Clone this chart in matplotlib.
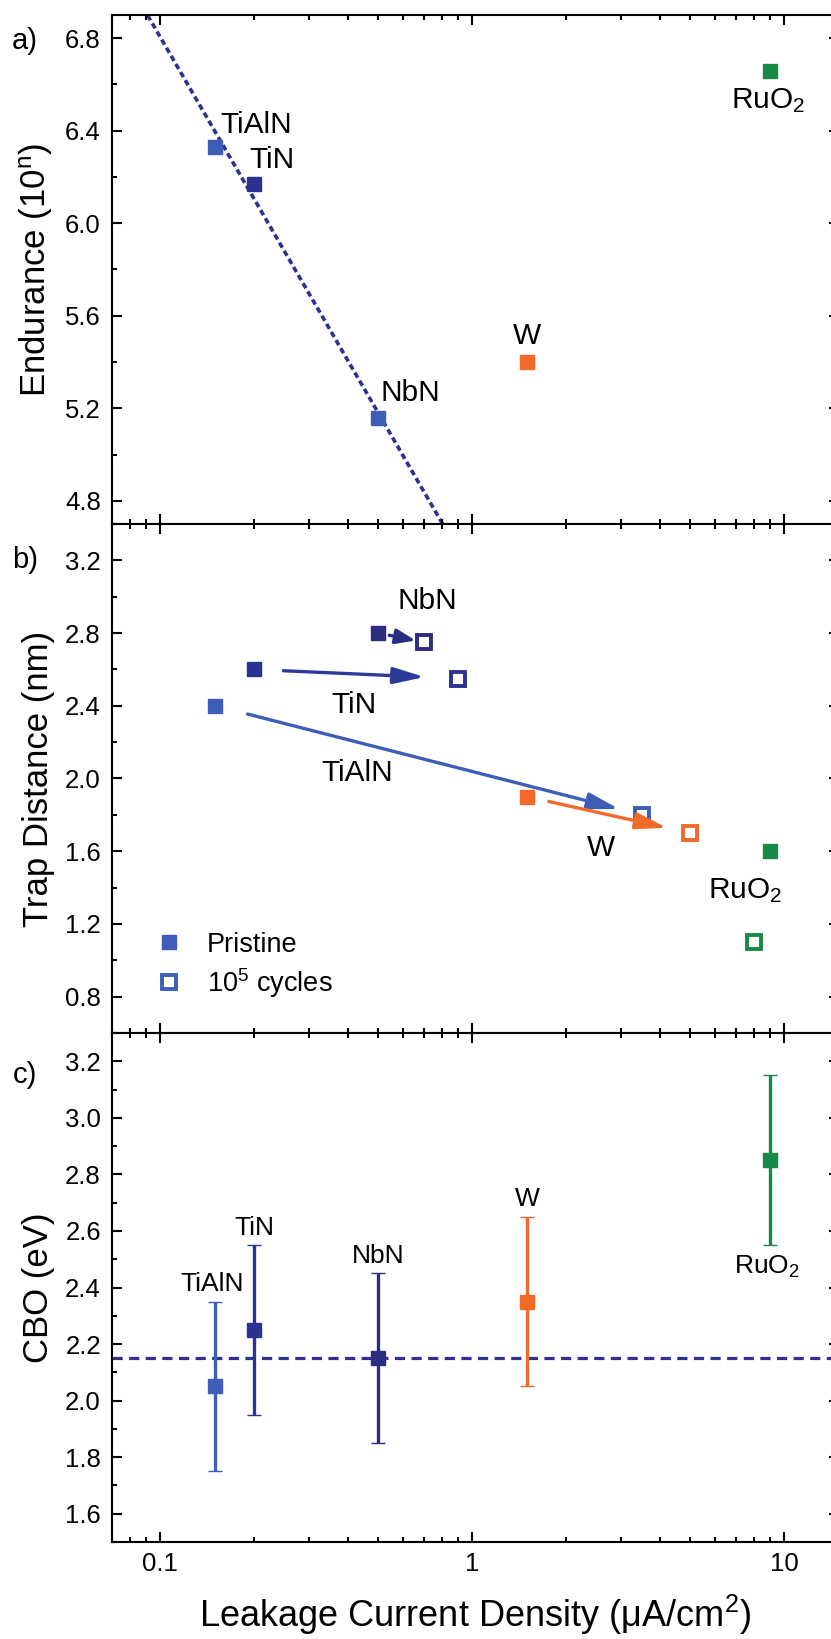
import numpy as np
import matplotlib
matplotlib.use('Agg')
import matplotlib.pyplot as plt
from matplotlib.ticker import MultipleLocator, LogLocator, NullFormatter
from matplotlib.lines import Line2D

plt.rcParams['font.family'] = ['Liberation Sans', 'DejaVu Sans']
plt.rcParams['mathtext.fontset'] = 'custom'
plt.rcParams['mathtext.rm'] = 'Liberation Sans'
plt.rcParams['mathtext.it'] = 'Liberation Sans:italic'
plt.rcParams['mathtext.default'] = 'regular'
plt.rcParams['axes.linewidth'] = 1.5

# data, order: TiAlN, TiN, NbN, W, RuO2
materials = ['TiAlN', 'TiN', 'NbN', 'W', 'RuO$_2$']
leakage = [0.15, 0.2, 0.5, 1.5, 9.0]
endurance = [6.33, 6.17, 5.16, 5.40, 6.66]
endurance_fit = [4.48, -2.324]   # intercept, slope vs log10(J)

trap_pristine = [2.40, 2.60, 2.80, 1.90, 1.60]
leakage_cycled = [3.5, 0.9, 0.70, 5.0, 8.0]
trap_cycled = [1.80, 2.55, 2.75, 1.70, 1.10]

cbo = [2.05, 2.25, 2.15, 2.35, 2.85]
cbo_err = [0.30, 0.30, 0.30, 0.30, 0.30]
cbo_mean = 2.15

x_ticks = [0.1, 1, 10]
x_ticklabels = ['0.1', '1', '10']

c_tialn = '#3D5DB7'
c_tin = '#2C3290'
c_nbn = '#2A2D80'
c_w = '#F26A2A'
c_ru = '#178A48'
c_fit = '#2E3192'
colors_a = [c_tialn, c_tin, c_tialn, c_w, c_ru]
colors = [c_tialn, c_tin, c_nbn, c_w, c_ru]

fig = plt.figure(figsize=(8.31, 16.39), dpi=100)
L, W_ax, H = 112 / 831, 727 / 831, 509 / 1639
ax_a = fig.add_axes([L, 1 - 524 / 1639, W_ax, H])
ax_b = fig.add_axes([L, 1 - 1033 / 1639, W_ax, H])
ax_c = fig.add_axes([L, 1 - 1542 / 1639, W_ax, H])

for ax in (ax_a, ax_b, ax_c):
    ax.set_xscale('log')
    ax.set_xlim(0.07, 15)
    ax.xaxis.set_major_locator(plt.FixedLocator(x_ticks))
    ax.xaxis.set_minor_locator(LogLocator(base=10, subs=np.arange(2, 10)))
    ax.xaxis.set_minor_formatter(NullFormatter())
    ax.tick_params(which='both', direction='in', top=True, right=True, width=1.5)
    ax.tick_params(which='major', length=7.2, labelsize=18.5, pad=8)
    ax.tick_params(which='minor', length=3.6)
    ax.yaxis.set_label_coords(-0.078, 0.5)
ax_c.set_xticks(x_ticks, x_ticklabels)
ax_a.tick_params(labelbottom=False)
ax_b.tick_params(labelbottom=False)

# a) endurance
xf = np.logspace(np.log10(0.07), np.log10(15), 100)
ax_a.plot(xf, endurance_fit[0] + endurance_fit[1] * np.log10(xf), color=c_fit,
          lw=2.6, linestyle=(0, (1.6, 1.0)), zorder=1)
for x, y, c in zip(leakage, endurance, colors_a):
    ax_a.plot(x, y, 's', color=c, ms=10, mew=1, zorder=3)
offs_a = [(29.5, 16), (13, 17.4), (22.8, 17.4), (0, 18.6), (-1.5, -21.6)]
for name, x, y, o in zip(materials, leakage, endurance, offs_a):
    ax_a.annotate(name, (x, y), xytext=o, textcoords='offset points',
                  ha='center', va='center', fontsize=21.5)
ax_a.set_ylim(4.7, 6.9)
ax_a.yaxis.set_major_locator(MultipleLocator(0.4))
ax_a.yaxis.set_minor_locator(MultipleLocator(0.2))
ax_a.set_ylabel('Endurance (10$^n$)', fontsize=25)

# b) trap distance
for i in range(5):
    ax_b.plot(leakage[i], trap_pristine[i], 's', color=colors[i], ms=10.5, mew=1, zorder=3)
    ax_b.plot(leakage_cycled[i], trap_cycled[i], 's', mfc='white', mec=colors[i],
              ms=9.5, mew=2.8, zorder=3)
arrow_shrink = [(24, 17), (21, 24), (8, 6), (16, 17)]
arrow_head = ['-|>,head_length=19,head_width=5', '-|>,head_length=19,head_width=5',
              '-|>,head_length=12,head_width=4.5', '-|>,head_length=19,head_width=5']
arrow_colors = [c_tialn, '#2E3A9A', c_nbn, c_w]
for i in range(4):
    ax_b.annotate('', xy=(leakage_cycled[i], trap_cycled[i]),
                  xytext=(leakage[i], trap_pristine[i]),
                  arrowprops=dict(arrowstyle=arrow_head[i], mutation_scale=1, lw=2.4,
                                  color=arrow_colors[i], shrinkA=arrow_shrink[i][0],
                                  shrinkB=arrow_shrink[i][1]))
offs_b = [(102, -48.4), (71.5, -25.6), (35.3, 23), (53.3, -36.7), (-17.5, -28)]
for name, x, y, o in zip(materials, leakage, trap_pristine, offs_b):
    ax_b.annotate(name, (x, y), xytext=o, textcoords='offset points',
                  ha='center', va='center', fontsize=21.5)
ax_b.set_ylim(0.6, 3.4)
ax_b.yaxis.set_major_locator(MultipleLocator(0.4))
ax_b.yaxis.set_minor_locator(MultipleLocator(0.2))
ax_b.set_ylabel('Trap Distance (nm)', fontsize=25)
handles = [Line2D([], [], ls='', marker='s', color=c_tialn, ms=10.5),
           Line2D([], [], ls='', marker='s', mfc='white', mec=c_tialn, ms=9.5, mew=2.8)]
ax_b.legend(handles, ['Pristine', '10$^5$ cycles'], loc='center left',
            bbox_to_anchor=(0.045, 0.132), frameon=False, fontsize=19.5,
            handlelength=0.8, handletextpad=1.0, labelspacing=0.3, borderpad=0)

# c) CBO
ax_c.axhline(cbo_mean, color=c_fit, lw=2.3, dashes=(3.2, 2.0), zorder=1)
for x, y, e, c in zip(leakage, cbo, cbo_err, colors):
    ax_c.errorbar(x, y, yerr=e, fmt='s', color=c, ms=10, mew=1, capsize=4.7,
                  elinewidth=2.4, capthick=2.4, zorder=3)
for i, name in enumerate(materials):
    if i == 4:
        ax_c.annotate(name, (leakage[i], cbo[i] - cbo_err[i]), xytext=(-2, -16),
                      textcoords='offset points', ha='center', va='center', fontsize=19)
    else:
        ax_c.annotate(name, (leakage[i], cbo[i] + cbo_err[i]), xytext=(-2 if i == 0 else 0, 12.5),
                      textcoords='offset points', ha='center', va='center', fontsize=19)
ax_c.set_ylim(1.5, 3.3)
ax_c.yaxis.set_major_locator(MultipleLocator(0.2))
ax_c.yaxis.set_minor_locator(MultipleLocator(0.1))
ax_c.set_ylabel('CBO (eV)', fontsize=25)
ax_c.set_xlabel('Leakage Current Density (μA/cm$^2$)', fontsize=26)
ax_c.xaxis.set_label_coords(0.5, -0.1)
ax_c.tick_params(axis='x', pad=7)

fig.text(25 / 831, 1 - 41 / 1639, 'a)', fontsize=21, ha='center', va='center')
fig.text(25 / 831, 1 - 560 / 1639, 'b)', fontsize=21, ha='center', va='center')
fig.text(25 / 831, 1 - 1075 / 1639, 'c)', fontsize=21, ha='center', va='center')

fig.savefig('out.png', dpi=100)
